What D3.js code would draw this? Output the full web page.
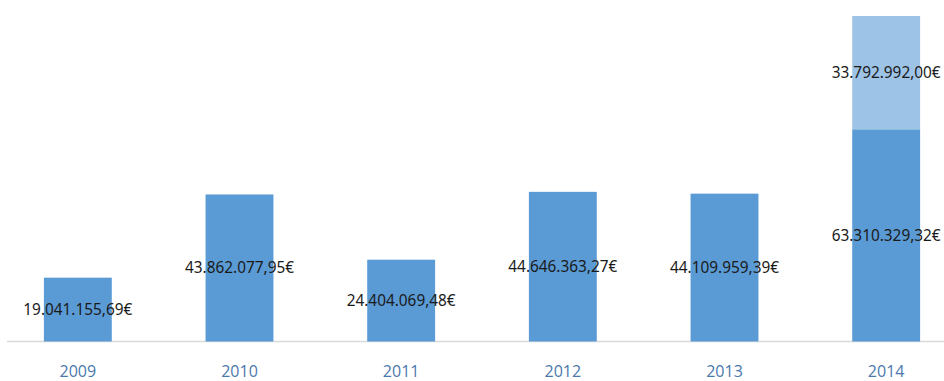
<!DOCTYPE html>
<html>
<head>
<meta charset="utf-8">
<script src="https://cdn.jsdelivr.net/npm/d3@7"></script>
<style>
  html, body { margin: 0; padding: 0; background: #ffffff; }
  svg { display: block; }
</style>
</head>
<body>
<svg id="chart" width="944" height="381"></svg>
<script>
// Yearly amounts in euros; 2014 carries an extra stacked segment.
const years = ["2009", "2010", "2011", "2012", "2013", "2014"];
const baseValues = [19041155.69, 43862077.95, 24404069.48, 44646363.27, 44109959.39, 63310329.32];
const extraValues = [0, 0, 0, 0, 0, 33792992.00];

const width = 944, height = 381;
const margin = { top: 16, baseline: 341.5 };

const rows = years.map((y, i) => ({ year: y, base: baseValues[i], extra: extraValues[i] }));
const stack = d3.stack().keys(["base", "extra"])(rows);

const svg = d3.select("#chart");

const x = d3.scaleBand()
  .domain(years)
  .range([-3, 967])
  .paddingInner(0.58)
  .paddingOuter(0.29);

const y = d3.scaleLinear()
  .domain([0, d3.max(rows, d => d.base + d.extra)])
  .range([margin.baseline, margin.top]);

const colors = { base: "#5b9bd5", extra: "#9dc3e6" };
const font = "'Noto Sans', 'Open Sans', sans-serif";

// Baseline axis with year labels
const axis = svg.append("g")
  .attr("transform", `translate(0,${margin.baseline})`)
  .call(d3.axisBottom(x).tickSize(0).tickPadding(0));
axis.select(".domain").remove();
axis.append("line")
  .attr("x1", 7).attr("x2", 944)
  .attr("y1", 0).attr("y2", 0)
  .attr("stroke", "#d9d9d9").attr("stroke-width", 1.5);
axis.selectAll(".tick text")
  .attr("y", 35.5)
  .attr("dy", null)
  .attr("fill", "#4a78ac")
  .attr("font-family", "'Open Sans', 'Noto Sans', sans-serif")
  .attr("font-size", 16);
axis.lower();

// Bars
const layers = svg.append("g").selectAll("g")
  .data(stack)
  .join("g")
  .attr("fill", d => colors[d.key]);

layers.selectAll("rect")
  .data(d => d.filter(s => s[1] > s[0]))
  .join("rect")
  .attr("x", d => x(d.data.year))
  .attr("width", x.bandwidth())
  .attr("y", d => y(d[1]))
  .attr("height", d => y(d[0]) - y(d[1]));

// Value labels, centred on each segment
const fmt = v => {
  const parts = v.toFixed(2).split(".");
  const intPart = parts[0].replace(/\B(?=(\d{3})+(?!\d))/g, ".");
  return intPart + "," + parts[1] + "€";
};

layers.selectAll("text")
  .data(d => d.filter(s => s[1] > s[0]))
  .join("text")
  .attr("x", d => x(d.data.year) + x.bandwidth() / 2)
  .attr("y", d => (y(d[0]) + y(d[1])) / 2)
  .attr("dy", "0.35em")
  .attr("text-anchor", "middle")
  .attr("fill", "#1a1a1a")
  .attr("font-family", font)
  .attr("font-size", 15.5)
  .attr("textLength", 109)
  .attr("lengthAdjust", "spacingAndGlyphs")
  .text(d => fmt(d[1] - d[0]));
</script>
</body>
</html>
